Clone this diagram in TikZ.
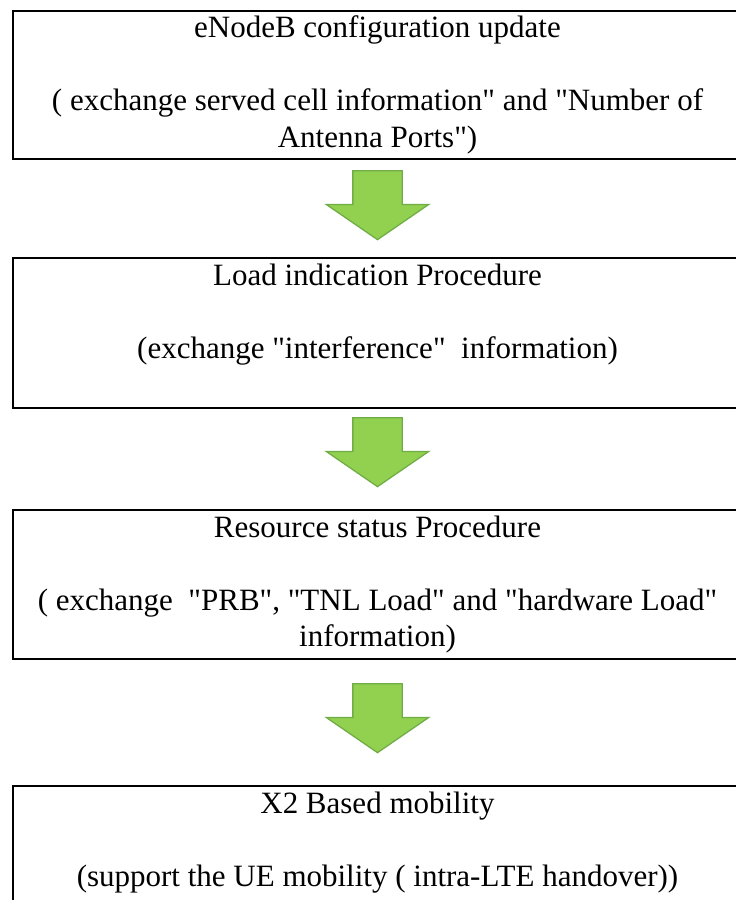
\documentclass[tikz,border=0pt]{standalone}
\usepackage{fontspec}
\setmainfont{Liberation Serif}[Ligatures=TeXOff]
\usepackage{tikz}
\usetikzlibrary{positioning,shapes.arrows}
\definecolor{arrowfill}{HTML}{92D050}
\definecolor{arrowedge}{HTML}{71AD47}
\tikzset{
  frame/.style={
    draw=black, line width=2pt, rectangle, inner sep=0pt,
    minimum width=729pt,
  },
  boxtxt/.style={
    align=center, inner sep=0pt, anchor=base,
    font=\fontsize{31}{36.5}\selectfont,
  },
  blockarr/.style={
    single arrow, draw=arrowedge, fill=arrowfill, line width=1.3pt,
    shape border rotate=270, inner xsep=24pt, inner ysep=0pt,
    minimum height=69pt, minimum width=101pt,
    single arrow head extend=26.5pt, single arrow tip angle=111,
    anchor=tail,
  },
}

\begin{document}
\begin{tikzpicture}[x=1pt,y=-1pt]
\clip (0,0) rectangle (736,900);

% boxes
\node[frame, minimum height=148pt, anchor=north west] (cfg) at (12,10) {};
\node[frame, minimum height=150pt, below=97pt of cfg] (load) {};
\node[frame, minimum height=149pt, below=100pt of load] (res) {};
\node[frame, minimum height=160pt, below=125pt of res] (mob) {};

% texts (base = last line)
\node[boxtxt] (cfgtxt) at ([yshift=-137pt]cfg.north)
  {eNodeB configuration update\\[36.5pt]( exchange served cell information" and "Number of\\Antenna Ports")};
\node[boxtxt] (loadtxt) at ([yshift=-101pt]load.north)
  {Load indication Procedure\\[36.5pt](exchange "interference"\ \ information)};
\node[boxtxt] (restxt) at ([yshift=-137.5pt]res.north)
  {Resource status Procedure\\[36.5pt]( exchange\ \ "PRB", "TNL Load" and "hardware Load"\\information)};
\node[boxtxt] (mobtxt) at ([yshift=-101pt]mob.north)
  {X2 Based mobility\\[36.5pt](support the UE mobility ( intra-LTE handover))};

% arrows
\node[blockarr] (arr1) at ([yshift=-10pt]cfg.south) {};
\node[blockarr] (arr2) at ([yshift=-8pt]load.south) {};
\node[blockarr] (arr3) at ([yshift=-23pt]res.south) {};

\end{tikzpicture}
\end{document}
